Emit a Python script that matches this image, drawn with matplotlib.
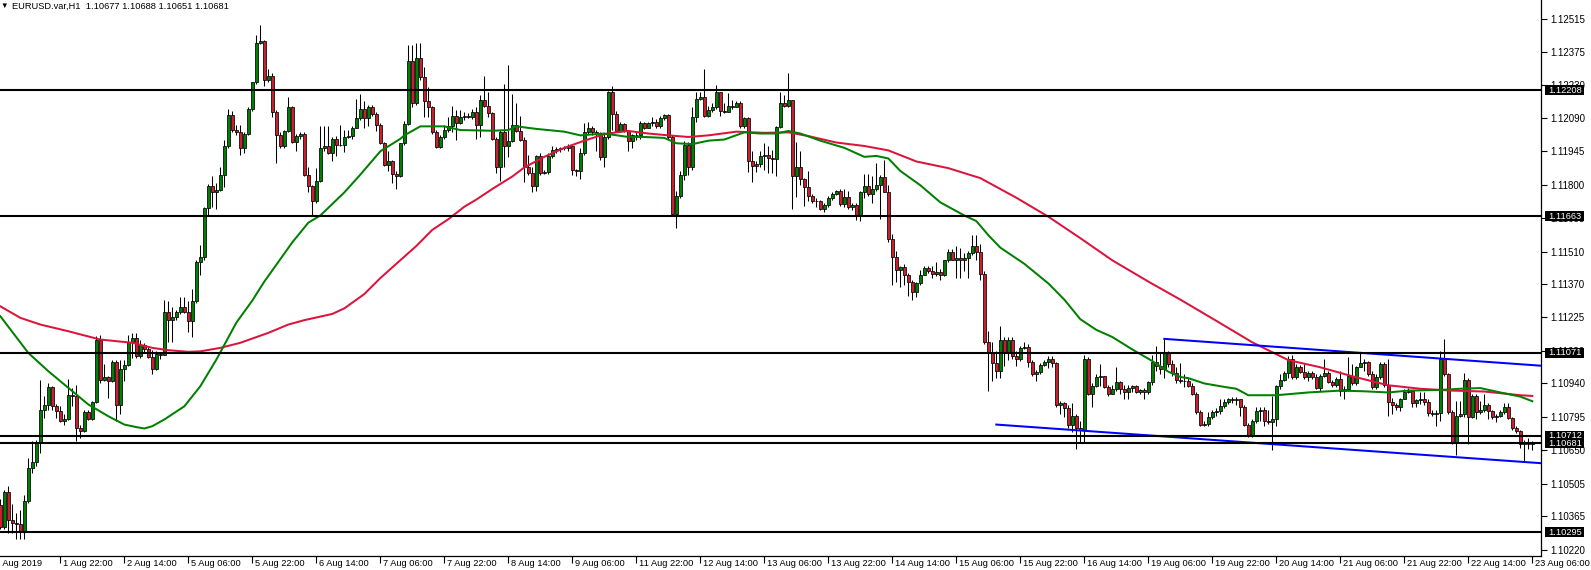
import numpy as np
import matplotlib
matplotlib.use("Agg")
import matplotlib.pyplot as plt
from matplotlib.patches import Rectangle

plt.rcParams['font.family'] = ['Liberation Sans', 'DejaVu Sans']

# ---------------- data (prices in points, 1e-5) ----------------
first_open = 110411
closes_pts = [
110318,110468,110350,110333,110331,110297,110428,110574,110600,110682,
110822,110846,110924,110843,110820,110777,110786,110887,110884,110747,
110732,110817,110786,110858,111129,110953,110967,110949,111031,110846,
111002,111021,111119,111136,111057,111107,111089,111054,111002,111067,
111060,111249,111213,111225,111248,111271,111248,111210,111295,111465,
111485,111700,111792,111766,111777,111843,111967,112103,112036,112026,
111959,112021,112125,112242,112415,112423,112253,112271,112114,112016,
111967,112032,112137,111985,112009,112019,111840,111794,111727,111815,
111959,111967,111936,111998,111970,111973,112006,112010,112047,112086,
112129,112087,112137,112106,112060,111979,111886,111902,111846,111836,
111978,112063,112335,112152,112346,112264,112160,112137,112029,111964,
112006,112036,112052,112098,112067,112094,112098,112094,112114,112060,
112165,112140,112109,111998,111874,112029,111967,111990,112060,112032,
111995,111874,111851,111794,111925,111851,111856,111924,111951,111955,
111958,111959,111967,111862,111859,111936,112029,112047,112029,112021,
111920,112006,112202,112106,112032,112064,112032,111990,112013,112016,
112067,112044,112067,112070,112052,112087,112103,112006,111673,111750,
111843,111970,111877,112091,112171,112179,112098,112121,112137,112199,
112118,112115,112140,112137,112155,112052,112086,111902,111882,111890,
111924,111927,111917,111910,112049,112155,112140,112165,111836,111874,
111823,111789,111750,111727,111730,111696,111712,111743,111761,111774,
111715,111746,111701,111712,111666,111769,111794,111758,111781,111797,
111831,111769,111565,111485,111429,111441,111410,111380,111333,111372,
111410,111438,111426,111414,111423,111407,111472,111506,111475,111480,
111475,111480,111503,111534,111506,111414,111117,111071,111027,110993,
111125,111071,111125,111058,111043,111094,111098,111032,110978,110990,
111021,111032,111043,111027,110846,110854,110831,110761,110800,110746,
110738,111047,110893,110928,110965,110970,110924,110893,110916,110947,
110916,110904,110919,110928,110904,110911,110904,110944,111032,111016,
111001,111070,111024,110985,110954,110950,110950,110928,110893,110815,
110758,110764,110795,110815,110820,110842,110857,110870,110866,110870,
110839,110761,110712,110777,110820,110823,110777,110774,110784,110928,
110955,110985,111047,110965,111012,110990,110965,110985,110965,110919,
110970,110985,110947,110931,110959,110908,110916,110970,110939,111012,
111027,111032,110978,110924,110965,111024,110931,110857,110846,110838,
110873,110904,110908,110854,110866,110870,110857,110811,110805,110811,
111047,110978,110815,110684,110800,110808,110955,110792,110885,110815,
110823,110846,110820,110792,110800,110815,110835,110789,110746,110733,
110676,110687,110677,110681]
highs_pts = [
110437,110477,110497,110415,110379,110393,110458,110617,110689,110693,
110953,110884,110939,110930,110852,110841,110805,110960,110920,110934,
110761,110826,110823,110862,111146,111150,111025,110973,111039,111042,
111042,111042,111150,111158,111158,111129,111115,111100,111083,111078,
111075,111302,111295,111271,111256,111315,111315,111295,111349,111472,
111537,111704,111802,111836,111805,111874,111993,112125,112117,112060,
112060,112029,112137,112245,112446,112489,112427,112299,112284,112121,
112029,112036,112180,112140,112021,112029,112026,111874,111797,111871,
112052,112052,112052,112006,112010,112060,112036,112036,112052,112172,
112191,112160,112145,112145,112114,112067,111985,111944,111905,111859,
111979,112075,112403,112403,112411,112412,112307,112222,112140,112036,
112013,112057,112091,112140,112121,112121,112114,112109,112129,112137,
112186,112271,112202,112114,112006,112036,112237,112319,112191,112155,
112098,112006,111928,111874,111928,111936,111862,111936,111967,111964,
111964,111967,111975,111967,111866,111959,112067,112072,112052,112036,
112029,112021,112207,112225,112118,112070,112067,112036,112021,112029,
112075,112070,112072,112094,112083,112098,112106,112106,112013,111774,
111859,111990,111985,112137,112202,112202,112302,112140,112152,112230,
112202,112152,112196,112168,112160,112160,112094,112091,111944,111902,
111944,111982,111967,111951,112052,112199,112186,112281,112168,111985,
111944,111828,111859,111758,111743,111735,111720,111750,111769,111778,
111781,111781,111774,111720,111720,111774,111846,111846,111836,111893,
111843,111905,111797,111588,111514,111449,111457,111418,111387,111380,
111429,111449,111449,111449,111465,111434,111475,111519,111519,111534,
111527,111503,111511,111581,111581,111542,111426,111166,111117,111078,
111186,111140,111140,111140,111078,111101,111117,111109,111040,110996,
111027,111040,111058,111058,111032,110862,110857,110846,110854,110808,
110777,111063,111055,110939,110978,111024,110965,110931,110931,111009,
110950,110931,110931,110934,110934,110916,110919,110950,111063,111101,
111071,111132,111078,111040,111009,111027,110978,110962,110939,110900,
110823,110777,110815,110823,110831,110873,110870,110877,110882,110882,
110873,110846,110769,110784,110839,110839,110839,110823,110885,110934,
110978,110993,111058,111063,111024,111021,111024,110993,110993,110978,
110978,111047,110993,110954,110965,110993,110928,111055,111024,111016,
111071,111047,111036,110993,110978,111032,111032,111047,110877,110854,
110877,110916,110919,110908,110873,110904,110900,110870,110823,110823,
111078,111132,110985,110823,110862,110862,110985,110962,110893,110893,
110862,110893,110854,110826,110808,110823,110854,110854,110795,110754,
110738,110696,110703,110688]
lows_pts = [
110307,110307,110292,110292,110264,110264,110264,110422,110552,110581,
110639,110790,110826,110826,110790,110774,110761,110780,110840,110689,
110704,110728,110780,110780,110855,110941,110949,110875,110946,110775,
110805,110949,111013,111050,111050,111050,111071,111050,110978,110999,
111045,111064,111117,111117,111213,111240,111244,111163,111140,111287,
111410,111472,111662,111704,111696,111774,111789,111959,112029,112016,
111928,111936,112013,112118,112237,112407,112227,112245,112091,111893,
111959,111959,112026,111978,111944,111998,111836,111769,111665,111720,
111812,111944,111933,111900,111925,111967,111941,112002,111998,112044,
112078,112047,112052,112098,112032,111975,111882,111859,111805,111781,
111831,111970,112060,112137,112145,112253,112094,112091,112021,111959,
111959,111998,112029,112026,111991,112064,112080,112087,112083,111998,
112006,112137,112091,111995,111851,111815,111874,111920,111985,112029,
111990,111812,111843,111766,111774,111843,111846,111846,111917,111936,
111939,111951,111944,111840,111836,111823,111928,112021,112016,111944,
111905,111874,111998,112036,112029,112029,112026,111944,111959,111995,
111998,112041,112044,112052,112047,112047,112080,111998,111666,111611,
111743,111820,111843,111862,112070,112168,112091,112091,112114,112129,
112098,112109,112114,112125,112134,112047,112047,111856,111812,111856,
111874,111862,111851,111851,111836,112044,112137,112134,111696,111747,
111797,111707,111727,111720,111704,111689,111681,111701,111735,111754,
111707,111704,111696,111689,111645,111642,111743,111750,111720,111774,
111650,111766,111553,111364,111380,111356,111364,111318,111302,111315,
111364,111407,111418,111395,111403,111387,111403,111465,111472,111395,
111395,111426,111395,111496,111472,111387,111109,110908,110950,110962,
110962,111016,111040,111047,111016,111036,111086,111009,110970,110950,
110978,111016,111006,111009,110839,110808,110792,110746,110730,110656,
110687,110687,110888,110839,110924,110928,110919,110885,110893,110908,
110893,110870,110873,110904,110897,110893,110873,110893,110934,110993,
110978,110962,111009,110970,110943,110939,110924,110924,110888,110808,
110754,110754,110754,110784,110800,110808,110831,110851,110854,110846,
110800,110754,110707,110707,110769,110777,110754,110764,110650,110754,
110916,110950,110962,110959,110959,110985,110959,110950,110959,110916,
110908,110965,110939,110924,110924,110885,110873,110908,110931,110934,
111009,110993,110970,110916,110916,110959,110924,110800,110808,110826,
110820,110870,110897,110839,110839,110851,110846,110800,110800,110754,
110777,110970,110808,110676,110630,110792,110792,110676,110789,110784,
110808,110815,110784,110784,110774,110792,110805,110784,110738,110723,
110661,110604,110656,110651]

# moving averages (bar index, price points)
ma_green_x = [1,8,13,18,23,28,32,35,37,39,42,47,51,55,60,64,67,74,78,81,
              87,91,96,101,102,106,112,116,124,128,130,135,142,146,152,158,162,167,170,174,
              178,182,187,191,195,198,201,206,212,217,220,223,226,231,236,242,245,248,251,257,
              263,267,271,275,279,284,289,293,296,298,302,307,310,313,320,328,336,342,348,353,
              361,366,371,376,381,384]
ma_green_y = [111230,111071,110992,110920,110848,110797,110761,110750,110744,110754,
              110783,110840,110927,111042,111202,111298,111380,111550,111635,111666,
              111766,111843,111944,111998,112013,112052,112052,112036,112033,112036,
              112052,112041,112029,112013,112021,112006,112006,112002,111979,111975,
              111990,111995,112026,112021,112021,112032,112021,111990,111959,111920,
              111924,111913,111859,111797,111723,111666,111642,111581,111527,111457,
              111372,111302,111217,111171,111140,111086,111036,110990,110967,110962,
              110939,110924,110916,110888,110888,110900,110908,110905,110900,110908,
              110911,110916,110919,110900,110882,110862]
ma_red_x = [1,6,11,18,26,34,39,43,48,51,56,61,68,73,77,84,87,92,96,100,
            105,109,113,117,120,124,129,132,137,142,147,152,155,158,163,168,173,178,185,192,
            198,203,210,217,223,230,238,246,255,263,271,279,288,296,305,314,323,331,339,348,
            356,364,372,381,384]
ma_red_y = [111273,111223,111194,111165,111129,111115,111093,111083,111076,111078,
            111093,111115,111158,111194,111213,111240,111264,111326,111395,111457,
            111534,111604,111650,111704,111735,111781,111835,111874,111920,111959,
            111990,112018,112026,112032,112021,112013,112006,112013,112029,112024,
            112026,112010,111982,111967,111948,111900,111871,111828,111743,111661,
            111568,111472,111380,111302,111210,111117,111040,111009,110970,110931,
            110916,110908,110904,110888,110885]

# channel trend lines (bar index, price)
chan_upper_x = [292, 386]
chan_upper_y = [1.11132, 1.11016]
chan_lower_x = [250, 386]
chan_lower_y = [1.10761, 1.10594]

levels = [1.12208, 1.11663, 1.11071, 1.10712, 1.10681, 1.10295]

yticks = [1.12515, 1.12375, 1.12230, 1.12090, 1.11945, 1.11800, 1.11655, 1.11510,
          1.11370, 1.11225, 1.11080, 1.10940, 1.10795, 1.10650, 1.10505, 1.10365, 1.10220]

xtick_bars = [0, 16, 32, 48, 64, 80, 96, 112, 128, 144, 160, 176, 192, 208, 224, 240,
              256, 272, 288, 304, 320, 336, 352, 368, 384]
xtick_labels = ["1 Aug 2019", "1 Aug 22:00", "2 Aug 14:00", "5 Aug 06:00", "5 Aug 22:00",
                "6 Aug 14:00", "7 Aug 06:00", "7 Aug 22:00", "8 Aug 14:00", "9 Aug 06:00",
                "11 Aug 22:00", "12 Aug 14:00", "13 Aug 06:00", "13 Aug 22:00", "14 Aug 14:00",
                "15 Aug 06:00", "15 Aug 22:00", "16 Aug 14:00", "19 Aug 06:00", "19 Aug 22:00",
                "20 Aug 14:00", "21 Aug 06:00", "21 Aug 22:00", "22 Aug 14:00", "23 Aug 06:00"]

title = "EURUSD.var,H1  1.10677 1.10688 1.10651 1.10681"

# ---------------- build ----------------
n = min(len(closes_pts), len(highs_pts), len(lows_pts))
C = np.array(closes_pts[:n]) / 1e5
H = np.array(highs_pts[:n]) / 1e5
L = np.array(lows_pts[:n]) / 1e5
O = np.concatenate([[first_open / 1e5], C[:-1]])
H = np.maximum(H, np.maximum(O, C))
L = np.minimum(L, np.minimum(O, C))
X = np.arange(1, n + 1)

W, Hh = 1591, 570
fig = plt.figure(figsize=(W / 100, Hh / 100), dpi=100)
ax_right_px = 1541
ax_bottom_px = 556
ax = fig.add_axes([0, (Hh - ax_bottom_px) / Hh, ax_right_px / W, ax_bottom_px / Hh])

ax.set_xlim(0.9175, 386.17)
ax.set_ylim(1.10192, 1.12599)

up = C >= O
green_c = '#008000'
red_c = '#C8202C'
body_bottom = np.minimum(O, C)
body_h = np.abs(C - O)

ax.vlines(X, L, H, color='black', linewidth=0.75, zorder=2)
ax.bar(X[up], body_h[up], bottom=body_bottom[up], width=0.64, color=green_c,
       edgecolor='black', linewidth=0.55, zorder=2.2)
ax.bar(X[~up], body_h[~up], bottom=body_bottom[~up], width=0.64, color=red_c,
       edgecolor='black', linewidth=0.55, zorder=2.2)

ax.plot(ma_red_x, np.array(ma_red_y) / 1e5, color='#DC143C', linewidth=1.45, zorder=3)
ax.plot(ma_green_x, np.array(ma_green_y) / 1e5, color='#008000', linewidth=1.45, zorder=3.1)

ax.plot(chan_upper_x, chan_upper_y, color='#0000FF', linewidth=1.45, zorder=3.5)
ax.plot(chan_lower_x, chan_lower_y, color='#0000FF', linewidth=1.45, zorder=3.5)

for v in levels:
    ax.axhline(v, color='black', linewidth=1.5, zorder=4)

# axes styling
for s in ['top', 'left']:
    ax.spines[s].set_visible(False)
for s in ['right', 'bottom']:
    ax.spines[s].set_color('black')
    ax.spines[s].set_linewidth(0.9)

fs = 6.7
fsy = 7.0
ax.yaxis.tick_right()
ax.set_yticks(yticks)
ax.set_yticklabels([f"{v:.5f}" for v in yticks])
ax.tick_params(axis='y', length=4, width=0.8, pad=3, labelsize=fsy, colors='black')

ax.set_xticks([b for b in xtick_bars if b >= 1])
ax.set_xticklabels([])
ax.tick_params(axis='x', length=5, width=0.8, direction='out', colors='black')

for b, lab in zip(xtick_bars, xtick_labels):
    dx = 3 if b > 0 else -1
    ax.annotate(lab, xy=(b, 0), xycoords=('data', 'axes fraction'),
                xytext=(dx, -7), textcoords='offset pixels', ha='left', va='center',
                fontsize=fs, color='black', annotation_clip=False)

# price label boxes on right axis
ytr = ax.get_yaxis_transform()
box_x0 = 1545 / ax_right_px
box_w = 39 / ax_right_px
px_per_unit = ax_bottom_px / (1.12599 - 1.10192)
box_h = 10.0 / px_per_unit
order = [1.12208, 1.11663, 1.11071, 1.10712, 1.10681, 1.10295]
for v in order:
    ax.add_patch(Rectangle((box_x0, v - box_h / 2), box_w, box_h, transform=ytr,
                           facecolor='black', edgecolor='none', clip_on=False, zorder=10))
    ax.annotate(f"{v:.5f}", xy=(1, v), xycoords=ytr, xytext=(7, 0),
                textcoords='offset pixels', ha='left', va='center', fontsize=fs,
                color='white', annotation_clip=False, zorder=11)

# title
fig.text(0.5 / W, 1 - 6 / Hh, "\u25BC", fontsize=5.5, ha='left', va='center', color='black')
fig.text(12 / W, 1 - 6 / Hh, title, fontsize=fs, ha='left', va='center', color='black')

fig.savefig("out.png", dpi=100, facecolor='white')
